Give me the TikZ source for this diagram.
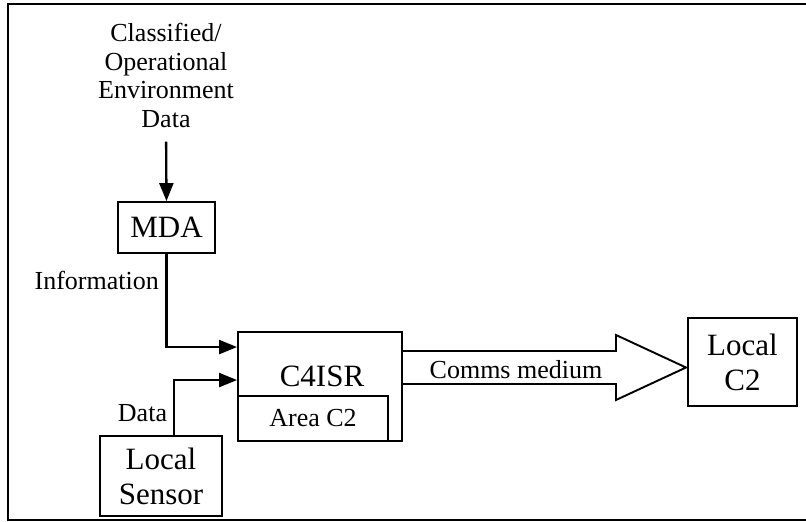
\documentclass[tikz,border=0pt]{standalone}
\usepackage{fontspec}
\setmainfont{Liberation Serif}
\usetikzlibrary{arrows.meta,calc}
\begin{document}
\begin{tikzpicture}[x=1pt,y=-1pt,
  bigfont/.style={font=\fontsize{31}{35}\selectfont},
  smallfont/.style={font=\fontsize{26}{28.5}\selectfont},
  box/.style={draw,line width=1.9pt,inner sep=0pt,align=center,bigfont},
  small/.style={inner sep=0pt,align=center,smallfont},
  arr/.style={line width=2.3pt,-{Triangle[length=18pt,width=14pt]}},
  blockarrow/.style={draw,line width=1.9pt,fill=white,line join=miter}]
\useasboundingbox (0,0) rectangle (806,522);
\draw[line width=2.2pt] (8,4) rectangle (814,520);

\node[small] (src) at (166,75.5) {Classified/\\Operational\\Environment\\Data};
\node[box,minimum width=97pt,minimum height=51pt] (mda) at (166.5,227.5) {MDA};
\node[box,minimum width=164pt,minimum height=109pt] (c4) at (320,386.5) {};
\node[bigfont,inner sep=0pt] (c4t) at (322,376) {C4ISR};
\node[box,smallfont,minimum width=150pt,minimum height=45pt,fill=white] (area) at (313,418.5) {Area C2};
\node[box,minimum width=109pt,minimum height=88pt] (lc2) at (742.5,362) {Local\\C2};
\node[box,minimum width=122pt,minimum height=80pt] (sensor) at (161,476) {Local\\Sensor};

\node[small,anchor=east] (info) at (159,280) {Information};
\node[small] (data) at (142.5,413) {Data};

\draw[arr,shorten <=14pt] (src.south) -- (mda.north);
\draw[arr] (mda.south) |- ([yshift=-16pt]c4.north west);
\draw[arr] ([xshift=13pt]sensor.north) |- ([yshift=-49pt]c4.north west);

\draw[blockarrow] (402,351) -- (616,351) -- (616,335) -- (686,367.5) -- (616,400) -- (616,384) -- (402,384) -- cycle;
\node[small] (comms) at (516,370) {Comms medium};
\end{tikzpicture}
\end{document}
